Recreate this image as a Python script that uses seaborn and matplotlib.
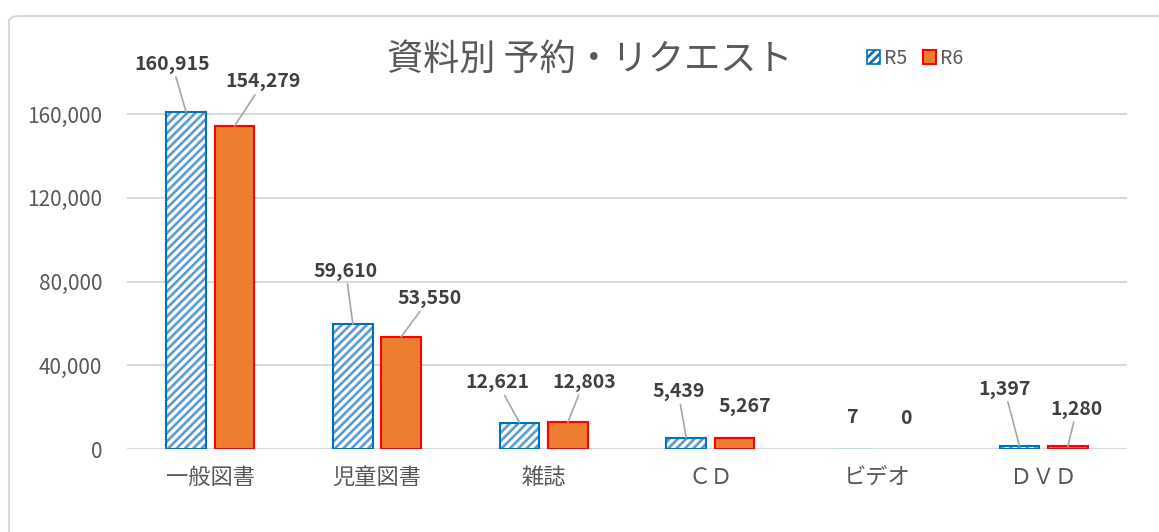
import numpy as np
import pandas as pd
import matplotlib
matplotlib.use("Agg")
import matplotlib.pyplot as plt
import seaborn as sns
from matplotlib.patches import Patch, Rectangle, FancyBboxPatch

categories = ["一般図書", "児童図書", "雑誌", "ＣＤ", "ビデオ", "ＤＶＤ"]
series = ["R5", "R6"]
r5_values = [160915, 59610, 12621, 5439, 7, 1397]
r6_values = [154279, 53550, 12803, 5267, 0, 1280]
y_ticks = [0, 40000, 80000, 120000, 160000]

# label offsets from bar top (pixels), and whether a leader line is drawn
r5_offsets = [(-14, 48), (-7, 53), (-22, 40), (-8, 46), (0, 31), (-15, 57)]
r6_offsets = [(29, 44), (28, 38), (16, 40), (10, 31), (5, 31), (9, 37)]
r5_leader = [True, True, True, True, False, True]
r6_leader = [True, True, True, False, False, True]

sns.set_theme(style="white")
plt.rcParams['font.family'] = ['Noto Sans CJK JP', 'DejaVu Sans']
plt.rcParams['hatch.linewidth'] = 1.9

df = pd.DataFrame({
    "category": categories * 2,
    "series": ["R5"] * len(categories) + ["R6"] * len(categories),
    "value": r5_values + r6_values,
})

fig = plt.figure(figsize=(11.59, 5.32), dpi=100)
ax = fig.add_axes([127 / 1159, 1 - 449 / 532, 1000 / 1159, 351.75 / 532])

sns.barplot(data=df, x="category", y="value", hue="series", order=categories,
            hue_order=series, width=0.58, gap=0.18, ax=ax, legend=False,
            palette={"R5": "#ffffff", "R6": "#ED7D31"})

r5_bars = ax.containers[0]
r6_bars = ax.containers[1]
for bar in r5_bars:
    bar.set_facecolor("white")
    bar.set_edgecolor("#5B9BD5")
    bar.set_hatch("////")
    bar.set_linewidth(0)
    ax.add_patch(Rectangle(bar.get_xy(), bar.get_width(), bar.get_height(),
                           fill=False, edgecolor="#0070C0" if bar.get_height() > 100 else "#BDD7EE",
                           lw=1.5, zorder=3))
for bar in r6_bars:
    bar.set_facecolor("#ED7D31")
    bar.set_edgecolor("#FF0000")
    bar.set_linewidth(1.5 if bar.get_height() > 0 else 0)

def add_labels(bars, values, offsets, leaders):
    for bar, v, off, lead in zip(bars, values, offsets, leaders):
        xc = bar.get_x() + bar.get_width() / 2
        ax.annotate(f"{v:,}", xy=(xc, bar.get_height()), xytext=off,
                    textcoords="offset pixels", ha="center", va="center",
                    fontsize=14, fontweight="bold", color="#404040",
                    arrowprops=dict(arrowstyle="-", color="#A6A6A6", lw=1.2,
                                    shrinkA=0, shrinkB=0) if lead else None,
                    annotation_clip=False)

add_labels(r5_bars, r5_values, r5_offsets, r5_leader)
add_labels(r6_bars, r6_values, r6_offsets, r6_leader)

ax.set_ylim(0, 168000)
ax.set_yticks(y_ticks)
ax.set_yticklabels([f"{t:,}" for t in y_ticks], fontsize=15, color="#595959")
ax.tick_params(axis="y", length=0, pad=18)
ax.tick_params(axis="x", length=0, pad=12, labelsize=16, labelcolor="#595959")
ax.set_xlabel("")
ax.set_ylabel("")
ax.yaxis.grid(True, color="#D9D9D9", lw=1.5)
ax.set_axisbelow(True)
for s in ax.spines.values():
    s.set_visible(False)

fig.text(590 / 1159, 1 - 60 / 532, "資料別 予約・リクエスト", ha="center",
         va="center", fontsize=26, color="#595959")

handles = [Patch(facecolor="white", edgecolor="#0070C0", hatch="////", lw=1.2),
           Patch(facecolor="#ED7D31", edgecolor="#FF0000", lw=1.5)]
fig.legend(handles, series, loc="center", bbox_to_anchor=(915 / 1159, 1 - 58 / 532),
           ncol=2, frameon=False, fontsize=14, handlelength=0.7, handleheight=0.7,
           handletextpad=0.2, columnspacing=0.8, labelcolor="#595959")

fig.patches.append(FancyBboxPatch((9 / 1159, -0.05), 1.05, 1 - 16 / 532 + 0.05,
                                  boxstyle="round,pad=0,rounding_size=0.01",
                                  transform=fig.transFigure, fill=False,
                                  edgecolor="#D9D9D9", lw=1.5))

fig.savefig("out.png", dpi=100)
